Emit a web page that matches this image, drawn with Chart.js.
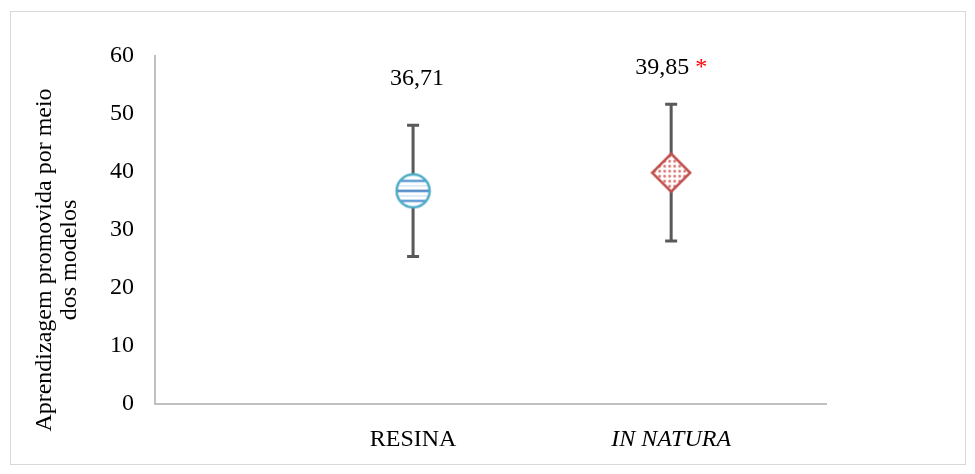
<!DOCTYPE html>
<html>
<head>
<meta charset="utf-8">
<script src="https://cdn.jsdelivr.net/npm/chart.js@4"></script>
<style>
  html, body { margin: 0; padding: 0; background: #fff; }
  #wrap { width: 975px; height: 474px; }
</style>
</head>
<body>
<div id="wrap"><canvas id="chart" width="975" height="474"></canvas></div>
<script>
// Group means, spread (+/-) and the printed value labels
const categories = ['RESINA', 'IN NATURA'];
const means = [36.71, 39.85];
const spreads = [11.35, 11.8];
const valueLabels = ['36,71', '39,85'];
const significance = ['', '*'];
const yTicks = [0, 10, 20, 30, 40, 50, 60];
const axisTitle = ['Aprendizagem promovida por meio', 'dos modelos'];

const SERIF = '"Liberation Serif", "Times New Roman", serif';
const FONT_SIZE = 24;

// Striped circle marker
function stripedCircle(r) {
  const c = document.createElement('canvas');
  const s = Math.ceil(2 * r + 4);
  c.width = s; c.height = s;
  const g = c.getContext('2d');
  const cx = s / 2, cy = s / 2;
  g.beginPath(); g.arc(cx, cy, r, 0, Math.PI * 2); g.closePath();
  g.fillStyle = '#ffffff'; g.fill();
  g.save(); g.clip();
  [-10, 0, 10].forEach((dy, i) => {
    g.fillStyle = i === 1 ? '#2a6fba' : '#3f86cc';
    g.fillRect(0, cy + dy - 1, s, 2);
  });
  [-5, 5].forEach(dy => {
    g.fillStyle = '#c4dcf0';
    g.fillRect(0, cy + dy - 0.5, s, 1);
  });
  g.restore();
  g.beginPath(); g.arc(cx, cy, r, 0, Math.PI * 2);
  g.lineWidth = 2.5; g.strokeStyle = '#4bacc6'; g.stroke();
  return c;
}

// Dotted diamond marker
function dottedDiamond(h) {
  const c = document.createElement('canvas');
  const s = Math.ceil(2 * h + 4);
  c.width = s; c.height = s;
  const g = c.getContext('2d');
  const cx = s / 2, cy = s / 2;
  const path = () => {
    g.beginPath();
    g.moveTo(cx, cy - h); g.lineTo(cx + h, cy); g.lineTo(cx, cy + h); g.lineTo(cx - h, cy);
    g.closePath();
  };
  path(); g.fillStyle = '#ffffff'; g.fill();
  g.save(); path(); g.clip();
  g.fillStyle = '#d97876';
  for (let y = -h; y <= h; y += 5) {
    for (let x = -h; x <= h; x += 5) {
      g.beginPath(); g.arc(cx + x + 2.5, cy + y + 2.5, 1.4, 0, Math.PI * 2); g.fill();
    }
  }
  g.restore();
  path(); g.lineWidth = 2.5; g.strokeStyle = '#c0504d'; g.stroke();
  return c;
}

const markers = [stripedCircle(16.5), dottedDiamond(19)];

// Frame around the whole figure
const framePlugin = {
  id: 'frame',
  beforeDraw(chart) {
    const ctx = chart.ctx;
    ctx.save();
    ctx.fillStyle = '#ffffff';
    ctx.fillRect(0, 0, chart.width, chart.height);
    ctx.strokeStyle = '#d9d9d9';
    ctx.lineWidth = 1;
    ctx.strokeRect(10.5, 11.5, 955, 453);
    ctx.restore();
  }
};

// Vertical error bars with caps, drawn beneath the markers
const errorBarPlugin = {
  id: 'errorBars',
  beforeDatasetsDraw(chart) {
    const ctx = chart.ctx;
    const xs = chart.scales.x, ys = chart.scales.y;
    ctx.save();
    ctx.strokeStyle = '#595959';
    ctx.lineWidth = 3;
    means.forEach((m, i) => {
      const x = xs.getPixelForValue(i + 1);
      const yt = ys.getPixelForValue(m + spreads[i]);
      const yb = ys.getPixelForValue(m - spreads[i]);
      ctx.beginPath();
      ctx.moveTo(x, yt); ctx.lineTo(x, yb);
      ctx.moveTo(x - 6, yt); ctx.lineTo(x + 6, yt);
      ctx.moveTo(x - 6, yb); ctx.lineTo(x + 6, yb);
      ctx.stroke();
    });
    ctx.restore();
  }
};

// Value labels above each bar, with a red significance mark
const valueLabelPlugin = {
  id: 'valueLabels',
  afterDatasetsDraw(chart, args, opts) {
    const ctx = chart.ctx;
    const xs = chart.scales.x, ys = chart.scales.y;
    ctx.save();
    ctx.font = FONT_SIZE + 'px ' + SERIF;
    ctx.textBaseline = 'middle';
    ctx.textAlign = 'left';
    means.forEach((m, i) => {
      const x = xs.getPixelForValue(i + 1);
      const y = ys.getPixelForValue(m + spreads[i]) - opts.lift[i];
      const main = valueLabels[i];
      const mark = significance[i] ? ' ' + significance[i] : '';
      const wMain = ctx.measureText(main).width;
      const wMark = mark ? ctx.measureText(mark).width : 0;
      const x0 = x - (wMain + wMark) / 2 + opts.shift[i];
      ctx.fillStyle = '#000000';
      ctx.fillText(main, x0, y);
      if (mark) {
        ctx.fillStyle = '#ff0000';
        ctx.fillText(mark, x0 + wMain, y);
      }
    });
    ctx.restore();
  }
};

// Rotated two-line axis title
const axisTitlePlugin = {
  id: 'axisTitle',
  afterDraw(chart, args, opts) {
    const ctx = chart.ctx;
    ctx.save();
    ctx.font = FONT_SIZE + 'px ' + SERIF;
    ctx.fillStyle = '#000000';
    ctx.textAlign = 'center';
    ctx.textBaseline = 'middle';
    axisTitle.forEach((line, i) => {
      ctx.save();
      ctx.translate(opts.x + i * opts.lineGap, opts.y);
      ctx.rotate(-Math.PI / 2);
      ctx.fillText(line, 0, 0);
      ctx.restore();
    });
    ctx.restore();
  }
};

new Chart(document.getElementById('chart'), {
  type: 'scatter',
  data: {
    datasets: [{
      data: means.map((m, i) => ({ x: i + 1, y: m })),
      pointStyle: markers,
      pointRadius: 18,
      pointHoverRadius: 18,
      showLine: false
    }]
  },
  options: {
    responsive: false,
    animation: false,
    events: [],
    layout: { padding: { left: 0, right: 149, top: 56, bottom: 0 } },
    plugins: {
      legend: { display: false },
      tooltip: { enabled: false },
      valueLabels: { lift: [46, 37], shift: [4, 0] },
      axisTitle: { x: 45, y: 260, lineGap: 25 }
    },
    scales: {
      x: {
        type: 'linear',
        min: 0,
        max: 2.6,
        afterBuildTicks(scale) {
          scale.ticks = categories.map((c, i) => ({ value: i + 1 }));
        },
        afterFit(scale) { scale.height = 474 - 403.5; },
        grid: { display: false },
        border: { display: true, color: '#c0c0c0', width: 2 },
        ticks: {
          padding: 14,
          color: '#000000',
          autoSkip: false,
          maxRotation: 0,
          callback: (v) => categories[Math.round(v) - 1],
          font: (ctx) => ({ family: SERIF, size: FONT_SIZE, style: ctx.index === 1 ? 'italic' : 'normal' })
        }
      },
      y: {
        min: 0,
        max: 60,
        afterBuildTicks(scale) {
          scale.ticks = yTicks.map(v => ({ value: v }));
        },
        afterFit(scale) { scale.width = 155; },
        grid: { display: false },
        border: { display: true, color: '#c0c0c0', width: 2 },
        ticks: {
          padding: 13,
          color: '#000000',
          font: { family: SERIF, size: FONT_SIZE }
        }
      }
    }
  },
  plugins: [framePlugin, errorBarPlugin, valueLabelPlugin, axisTitlePlugin]
});
</script>
</body>
</html>
